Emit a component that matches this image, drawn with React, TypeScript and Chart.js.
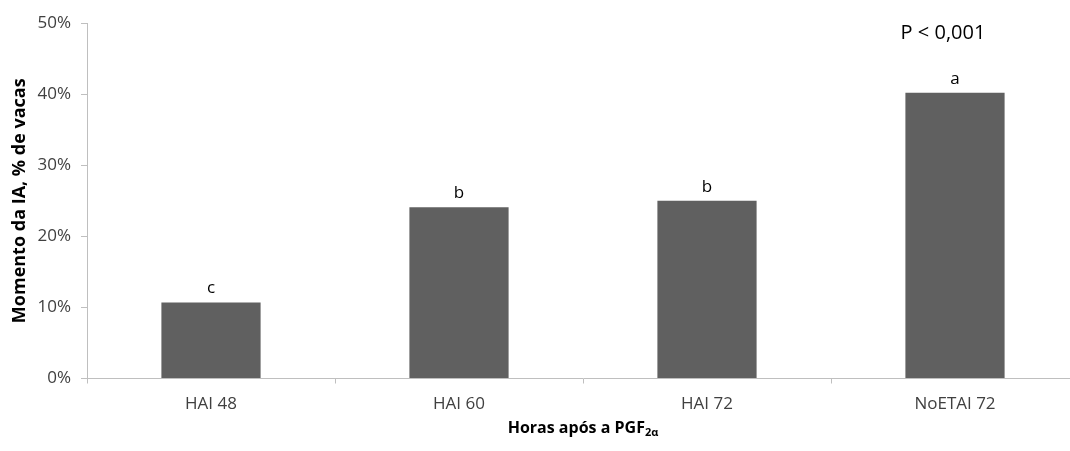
import React, { useEffect, useRef } from "react";
import { Chart, registerables } from "chart.js";

Chart.register(...registerables);

const categories = ["HAI 48", "HAI 60", "HAI 72", "NoETAI 72"];
const values = [10.7, 24.1, 25.0, 40.2];
const letters = ["c", "b", "b", "a"];
const yTicks = [0, 10, 20, 30, 40, 50];
const yTitle = "Momento da IA, % de vacas";
const xTitleMain = "Horas após a PGF";
const xTitleSub = "2α";
const pText = "P < 0,001";

const FONT = "'Open Sans', 'DejaVu Sans', sans-serif";

export default function App() {
  const ref = useRef<HTMLCanvasElement | null>(null);
  useEffect(() => {
    const canvas = ref.current!;
    const overlay = {
      id: "overlay",
      afterDatasetsDraw(chart: any) {
        const ctx = chart.ctx;
        const area = chart.chartArea;
        const meta = chart.getDatasetMeta(0);
        ctx.save();
        ctx.fillStyle = "#000000";
        ctx.font = `17px ${FONT}`;
        ctx.textAlign = "center";
        ctx.textBaseline = "middle";
        meta.data.forEach((bar: any, i: number) => {
          ctx.fillText(letters[i], bar.x, bar.y - 14);
        });
        // P value
        ctx.font = `20px ${FONT}`;
        const xs = chart.scales.x;
        const pX = xs.getPixelForValue(3) - 12;
        ctx.fillText(pText, pX, chart.scales.y.getPixelForValue(48.5));
        // x title
        const mainFont = `bold 16px ${FONT}`;
        const subFont = `bold 11px ${FONT}`;
        ctx.font = mainFont;
        const w1 = ctx.measureText(xTitleMain).width;
        ctx.font = subFont;
        const w2 = ctx.measureText(xTitleSub).width;
        const cx = (area.left + area.right) / 2;
        const startX = cx - (w1 + w2) / 2;
        const ty = 428;
        ctx.textAlign = "left";
        ctx.textBaseline = "middle";
        ctx.font = mainFont;
        ctx.fillText(xTitleMain, startX, ty);
        ctx.font = subFont;
        ctx.fillText(xTitleSub, startX + w1, ty + 5);
        ctx.restore();
      },
    };
    const chart = new Chart(canvas, {
      type: "bar",
      data: {
        labels: categories,
        datasets: [
          {
            data: values,
            backgroundColor: "#606060",
            borderWidth: 0,
            barPercentage: 0.4,
            categoryPercentage: 1.0,
          },
        ],
      },
      options: {
        responsive: false,
        animation: false,
        layout: { padding: { left: 0, right: 21, top: 23, bottom: 0 } },
        plugins: {
          legend: { display: false },
          tooltip: { enabled: false },
        },
        scales: {
          x: {
            grid: {
              display: true,
              drawOnChartArea: false,
              drawTicks: true,
              tickLength: 5,
              color: "#bfbfbf",
              offset: true,
            },
            border: { display: true, color: "#bfbfbf", width: 1 },
            ticks: {
              color: "#404040",
              font: { family: FONT, size: 17 },
              padding: 10,
              maxRotation: 0,
            },
            afterFit(scale: any) {
              scale.height = 72.5;
            },
          },
          y: {
            min: 0,
            max: 50,
            afterBuildTicks(scale: any) {
              scale.ticks = yTicks.map((v) => ({ value: v }));
            },
            grid: {
              display: true,
              drawOnChartArea: false,
              drawTicks: true,
              tickLength: 6,
              color: "#bfbfbf",
            },
            border: { display: true, color: "#bfbfbf", width: 1 },
            ticks: {
              color: "#404040",
              font: { family: FONT, size: 17 },
              padding: 10,
              callback: (v: any) => `${v}%`,
            },
            title: {
              display: true,
              text: yTitle,
              color: "#000000",
              font: { family: FONT, size: 18, weight: "bold" },
              padding: { top: 9, bottom: 0 },
            },
            afterFit(scale: any) {
              scale.width = 87;
            },
          },
        },
      },
      plugins: [overlay],
    });
    return () => chart.destroy();
  }, []);
  return (
    <div
      style={{
        position: "absolute",
        left: 0,
        top: 0,
        width: 1070,
        height: 451,
        overflow: "hidden",
        background: "#ffffff",
      }}
    >
      <canvas ref={ref} width={1100} height={451} style={{ display: "block" }} />
    </div>
  );
}
